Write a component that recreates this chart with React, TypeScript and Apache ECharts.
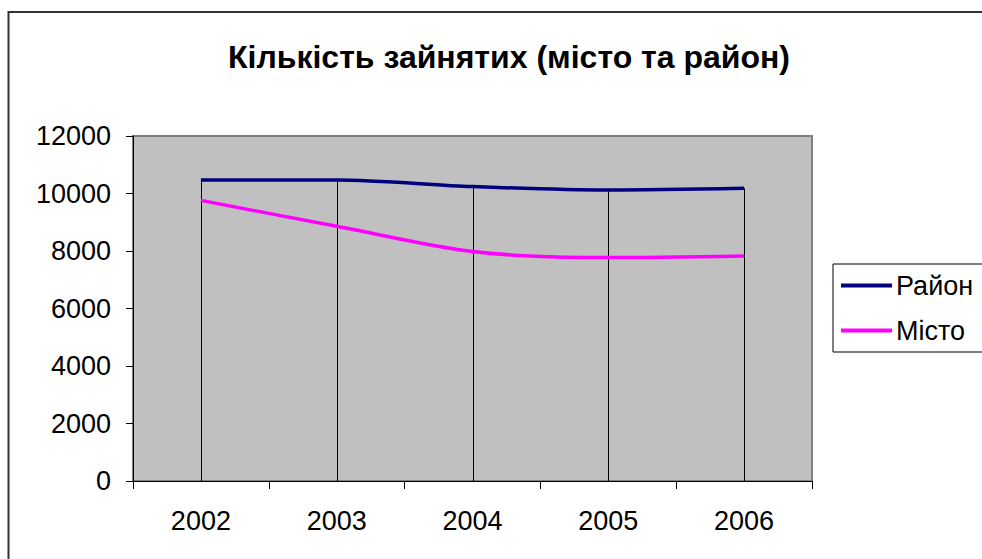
import React, { useEffect, useRef } from "react";
import * as echarts from "echarts";

const years = ["2002", "2003", "2004", "2005", "2006"];
const rayon = [10470, 10470, 10240, 10120, 10180];
const misto = [9760, 8860, 7980, 7770, 7830];
const yTicks = { min: 0, max: 12000, interval: 2000 };
const seriesNames = ["Район", "Місто"];
const titleText = "Кількість зайнятих (місто та район)";

const FONT = "'Liberation Sans', Arial, sans-serif";

export default function App() {
  const ref = useRef<HTMLDivElement>(null);
  useEffect(() => {
    if (!ref.current) return;
    const chart = echarts.init(ref.current, null, { renderer: "svg" });
    const dropTop = years.map((_, i) => Math.max(rayon[i], misto[i]));
    chart.setOption({
      animation: false,
      backgroundColor: "#ffffff",
      textStyle: { fontFamily: FONT },
      title: {
        text: titleText,
        left: 504,
        top: 36,
        textAlign: "center",
        textStyle: { fontFamily: FONT, fontSize: 32, fontWeight: "bold", color: "#000" },
      },
      graphic: [
        {
          type: "rect",
          shape: { x: 8.5, y: 12, width: 1000, height: 600 },
          style: { fill: "none", stroke: "#333", lineWidth: 2 },
          silent: true,
          z: 100,
        },
      ],
      legend: {
        left: 833,
        top: 264,
        orient: "vertical",
        data: seriesNames,
        backgroundColor: "#fff",
        borderColor: "#000",
        borderWidth: 1,
        borderRadius: 0,
        padding: [8, 20, 8, 8],
        itemGap: 18,
        itemWidth: 51,
        itemHeight: 4,
        icon: "rect",
        textStyle: { fontFamily: FONT, fontSize: 27, color: "#000", padding: [0, 0, 0, -1] },
      },
      grid: {
        left: 133,
        top: 136,
        right: 170,
        bottom: 78,
        show: true,
        backgroundColor: "#C0C0C0",
        borderColor: "#808080",
        borderWidth: 2,
      },
      xAxis: {
        type: "category",
        data: years,
        boundaryGap: true,
        axisLine: { show: true, lineStyle: { color: "#000", width: 1 } },
        axisTick: { show: true, inside: false, length: 8, lineStyle: { color: "#000" }, alignWithLabel: false },
        axisLabel: { fontFamily: FONT, fontSize: 27, color: "#000", margin: 26 },
        splitLine: { show: false },
      },
      yAxis: {
        type: "value",
        min: yTicks.min,
        max: yTicks.max,
        interval: yTicks.interval,
        axisLine: { show: true, lineStyle: { color: "#000", width: 1 } },
        axisTick: { show: true, inside: false, length: 7, lineStyle: { color: "#000" } },
        axisLabel: {
          fontFamily: FONT,
          fontSize: 27,
          color: "#000",
          margin: 22,
          formatter: (v: number) => String(v),
        },
        splitLine: { show: false },
      },
      series: [
        {
          type: "custom",
          name: "drop",
          z: 1,
          silent: true,
          data: dropTop.map((v, i) => [i, v]),
          renderItem: (params: any, api: any) => {
            const i = api.value(0);
            const top = api.coord([i, api.value(1)]);
            const bottom = api.coord([i, 0]);
            return {
              type: "line",
              shape: { x1: Math.round(top[0]) + 0.5, y1: top[1], x2: Math.round(bottom[0]) + 0.5, y2: bottom[1] },
              style: { stroke: "#000", lineWidth: 1 },
            };
          },
        },
        {
          type: "line",
          name: seriesNames[0],
          data: rayon,
          smooth: 0.3,
          showSymbol: false,
          symbol: "none",
          z: 3,
          lineStyle: { color: "#000080", width: 3.5 },
          itemStyle: { color: "#000080" },
        },
        {
          type: "line",
          name: seriesNames[1],
          data: misto,
          smooth: 0.3,
          showSymbol: false,
          symbol: "none",
          z: 3,
          lineStyle: { color: "#FF00FF", width: 3.5 },
          itemStyle: { color: "#FF00FF" },
        },
      ],
    });
    return () => chart.dispose();
  }, []);
  return (
    <div
      ref={ref}
      style={{ position: "fixed", left: 0, top: 0, width: 982, height: 559, background: "#fff" }}
    />
  );
}
